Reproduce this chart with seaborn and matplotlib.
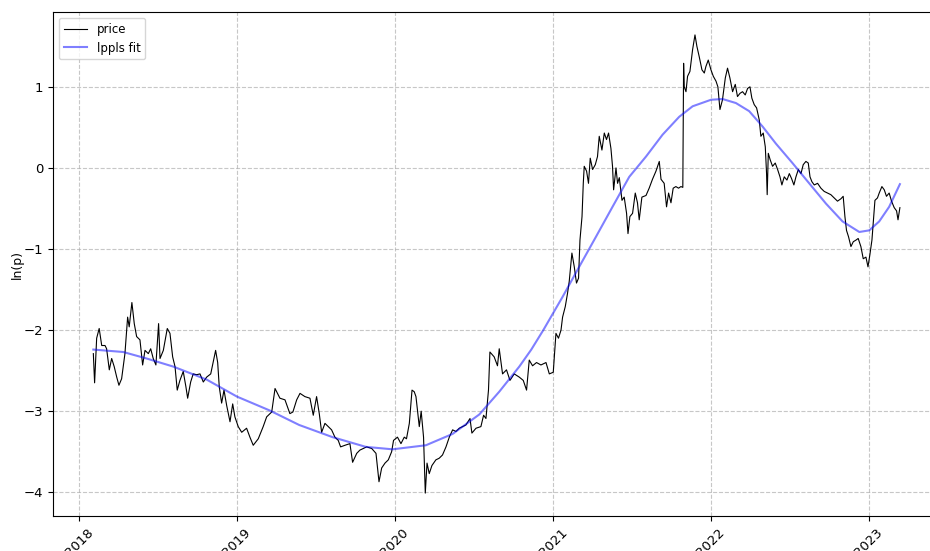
import matplotlib
matplotlib.use("Agg")
import matplotlib.pyplot as plt
import matplotlib.dates as mdates
import numpy as np
import pandas as pd
import seaborn as sns

# price, time in decimal years, ln(p)
price_year = [
    2018.091, 2018.099, 2018.112, 2018.128, 2018.144, 2018.165, 2018.175, 2018.192, 2018.207, 2018.223,
    2018.239, 2018.253, 2018.270, 2018.291, 2018.308, 2018.318, 2018.335, 2018.350, 2018.365, 2018.386,
    2018.403, 2018.418, 2018.439, 2018.454, 2018.470, 2018.487, 2018.504, 2018.513, 2018.534, 2018.559,
    2018.576, 2018.593, 2018.608, 2018.622, 2018.639, 2018.660, 2018.677, 2018.688, 2018.707, 2018.723,
    2018.745, 2018.766, 2018.787, 2018.808, 2018.834, 2018.850, 2018.865, 2018.878, 2018.888, 2018.903,
    2018.918, 2018.935, 2018.956, 2018.973, 2018.987, 2019.008,
    2019.030, 2019.061, 2019.082, 2019.103, 2019.135, 2019.166, 2019.188, 2019.220, 2019.241, 2019.272,
    2019.304, 2019.335, 2019.354, 2019.378, 2019.399,
    2019.430, 2019.462, 2019.483, 2019.504, 2019.521, 2019.536, 2019.557, 2019.578, 2019.599, 2019.620,
    2019.641, 2019.656, 2019.684, 2019.715, 2019.732, 2019.758, 2019.778, 2019.799, 2019.821, 2019.853,
    2019.880, 2019.899, 2019.916, 2019.937, 2019.958, 2019.979, 2019.991,
    2020.016, 2020.038, 2020.059, 2020.073, 2020.091, 2020.108, 2020.122, 2020.133, 2020.154, 2020.166,
    2020.181, 2020.192, 2020.203, 2020.217, 2020.234, 2020.259, 2020.280, 2020.301, 2020.323, 2020.344,
    2020.365, 2020.386, 2020.407, 2020.428, 2020.449, 2020.475, 2020.487, 2020.513, 2020.544, 2020.561,
    2020.576, 2020.592, 2020.601, 2020.628, 2020.649, 2020.660, 2020.681, 2020.706, 2020.728, 2020.755,
    2020.787, 2020.812, 2020.833, 2020.850, 2020.871, 2020.896, 2020.924, 2020.956, 2020.977,
    2021.002, 2021.019, 2021.035, 2021.051, 2021.061, 2021.078, 2021.092, 2021.103, 2021.120, 2021.135,
    2021.149, 2021.162, 2021.171, 2021.184, 2021.192, 2021.198, 2021.213, 2021.225, 2021.236, 2021.251,
    2021.268, 2021.282, 2021.293, 2021.310, 2021.325, 2021.339, 2021.352, 2021.367, 2021.377, 2021.384,
    2021.399, 2021.409, 2021.420, 2021.437, 2021.451, 2021.466, 2021.475, 2021.487, 2021.504, 2021.521,
    2021.535, 2021.546, 2021.563, 2021.589, 2021.609, 2021.630, 2021.652, 2021.673, 2021.684, 2021.704,
    2021.719, 2021.732, 2021.747, 2021.761, 2021.778, 2021.795, 2021.810, 2021.822, 2021.827, 2021.831,
    2021.842, 2021.852, 2021.867, 2021.884, 2021.899, 2021.911, 2021.926, 2021.943, 2021.958, 2021.968,
    2021.983,
    2022.000, 2022.015, 2022.032, 2022.044, 2022.057, 2022.073, 2022.091, 2022.105, 2022.120, 2022.137,
    2022.154, 2022.168, 2022.184, 2022.200, 2022.217, 2022.232, 2022.247, 2022.259, 2022.274, 2022.289,
    2022.306, 2022.316, 2022.331, 2022.344, 2022.352, 2022.356, 2022.363, 2022.375, 2022.390, 2022.407,
    2022.422, 2022.437, 2022.449, 2022.464, 2022.481, 2022.496, 2022.510, 2022.525, 2022.538, 2022.553,
    2022.570, 2022.584, 2022.601, 2022.616, 2022.627, 2022.639, 2022.654, 2022.675, 2022.696, 2022.717,
    2022.738, 2022.759, 2022.780, 2022.801, 2022.823, 2022.837, 2022.848, 2022.858, 2022.871, 2022.886,
    2022.901, 2022.918, 2022.932, 2022.949, 2022.964, 2022.981, 2022.994,
    2023.006, 2023.019, 2023.029, 2023.038, 2023.054, 2023.065, 2023.082, 2023.097, 2023.111, 2023.128,
    2023.143, 2023.160, 2023.175, 2023.184, 2023.196,
]
price_lnp = [
    -2.29, -2.65, -2.10, -1.98, -2.19, -2.19, -2.23, -2.49, -2.35, -2.45,
    -2.58, -2.68, -2.60, -2.29, -1.84, -1.96, -1.66, -1.92, -2.08, -2.12,
    -2.43, -2.25, -2.29, -2.23, -2.35, -2.43, -1.92, -2.35, -2.25, -1.98,
    -2.04, -2.33, -2.45, -2.74, -2.62, -2.51, -2.70, -2.84, -2.64, -2.54,
    -2.55, -2.54, -2.64, -2.58, -2.54, -2.39, -2.25, -2.40, -2.70, -2.90,
    -2.74, -2.93, -3.13, -2.91, -3.07, -3.19,
    -3.26, -3.21, -3.32, -3.42, -3.34, -3.19, -3.07, -3.01, -2.72, -2.84,
    -2.86, -3.03, -3.01, -2.86, -2.78,
    -2.82, -2.84, -3.05, -2.82, -3.03, -3.26, -3.15, -3.19, -3.23, -3.32,
    -3.36, -3.44, -3.42, -3.40, -3.63, -3.52, -3.48, -3.46, -3.44, -3.46,
    -3.52, -3.87, -3.70, -3.64, -3.60, -3.50, -3.36,
    -3.32, -3.40, -3.32, -3.34, -3.15, -2.74, -2.76, -2.82, -3.19, -3.00,
    -3.32, -4.01, -3.64, -3.77, -3.67, -3.60, -3.58, -3.54, -3.44, -3.32,
    -3.23, -3.25, -3.21, -3.19, -3.17, -3.09, -3.27, -3.21, -3.19, -3.05,
    -3.09, -2.74, -2.27, -2.33, -2.44, -2.23, -2.54, -2.49, -2.62, -2.54,
    -2.58, -2.62, -2.74, -2.37, -2.44, -2.40, -2.43, -2.40, -2.54,
    -2.52, -2.04, -2.10, -2.00, -1.84, -1.71, -1.55, -1.40, -1.05, -1.22,
    -1.42, -1.36, -0.89, -0.60, -0.19, 0.02, -0.04, -0.19, 0.12, -0.02,
    0.04, 0.14, 0.39, 0.22, 0.43, 0.35, 0.43, 0.24, 0.02, -0.27,
    0.00, -0.19, -0.12, -0.40, -0.36, -0.56, -0.81, -0.60, -0.56, -0.31,
    -0.43, -0.64, -0.36, -0.34, -0.25, -0.14, -0.04, 0.08, -0.14, -0.19,
    -0.48, -0.31, -0.43, -0.25, -0.23, -0.25, -0.23, -0.24, 1.29, 1.00,
    0.94, 1.13, 1.19, 1.46, 1.64, 1.50, 1.37, 1.21, 1.17, 1.25,
    1.33,
    1.21, 1.13, 1.07, 1.00, 0.72, 0.84, 1.11, 1.23, 1.11, 0.94,
    1.03, 0.88, 0.92, 0.94, 0.90, 0.98, 1.00, 0.86, 0.78, 0.74,
    0.59, 0.39, 0.43, 0.26, -0.07, -0.33, 0.18, 0.10, 0.02, 0.06,
    -0.02, -0.11, -0.21, -0.11, -0.15, -0.07, -0.13, -0.21, -0.11, -0.02,
    -0.07, 0.04, 0.08, 0.06, -0.11, -0.17, -0.21, -0.19, -0.25, -0.29,
    -0.31, -0.33, -0.37, -0.41, -0.38, -0.35, -0.60, -0.77, -0.85, -0.97,
    -0.91, -0.89, -0.87, -0.97, -1.12, -1.10, -1.22,
    -1.07, -0.89, -0.64, -0.40, -0.37, -0.31, -0.23, -0.27, -0.35, -0.31,
    -0.41, -0.49, -0.53, -0.64, -0.49,
]

# lppls fit
fit_year = [
    2018.091, 2018.280, 2018.428, 2018.597, 2018.808, 2019.000, 2019.206, 2019.394, 2019.605, 2019.816,
    2019.985, 2020.196, 2020.365, 2020.534, 2020.660, 2020.787, 2020.863, 2020.939, 2021.061, 2021.166,
    2021.272, 2021.377, 2021.483, 2021.589, 2021.694, 2021.799, 2021.884, 2022.000, 2022.073, 2022.158,
    2022.242, 2022.327, 2022.411, 2022.516, 2022.622, 2022.728, 2022.833, 2022.939, 2023.002, 2023.065,
    2023.128, 2023.196,
]
fit_lnp = [
    -2.24, -2.27, -2.35, -2.45, -2.61, -2.82, -2.99, -3.17, -3.32, -3.44,
    -3.47, -3.42, -3.28, -3.04, -2.76, -2.45, -2.24, -2.00, -1.59, -1.22,
    -0.85, -0.48, -0.11, 0.14, 0.41, 0.63, 0.76, 0.84, 0.85, 0.80,
    0.70, 0.51, 0.30, 0.06, -0.19, -0.44, -0.66, -0.79, -0.77, -0.66,
    -0.48, -0.20,
]


def to_dates(years):
    yrs = np.asarray(years)
    return pd.Timestamp("2018-01-01") + pd.to_timedelta((yrs - 2018) * 365.25, unit="D")


price_df = pd.DataFrame({"date": to_dates(price_year), "lnp": price_lnp})
fit_df = pd.DataFrame({"date": to_dates(fit_year), "lnp": fit_lnp})

fig = plt.figure(figsize=(9.3, 5.51), dpi=100)
# right edge of the axes sits past the figure edge, as in the reference crop
ax = fig.add_axes([0.057, 0.0635, 0.954, 0.9147])

sns.lineplot(data=price_df, x="date", y="lnp", ax=ax, color="black", linewidth=0.8,
             label="price", estimator=None)
sns.lineplot(data=fit_df, x="date", y="lnp", ax=ax, color="blue", alpha=0.5, linewidth=1.5,
             label="lppls fit", estimator=None)

ax.xaxis.set_major_locator(mdates.YearLocator())
ax.xaxis.set_major_formatter(mdates.DateFormatter("%Y"))
plt.setp(ax.get_xticklabels(), rotation=45)
ax.set_xlabel("")
ax.set_ylabel("ln(p)", fontsize=9, labelpad=0)
ax.tick_params(labelsize=9.5)
ax.grid(True, linestyle="--", alpha=0.7)
ax.legend(loc="upper left", fontsize=8.5)

fig.savefig("out.png", dpi=100)
